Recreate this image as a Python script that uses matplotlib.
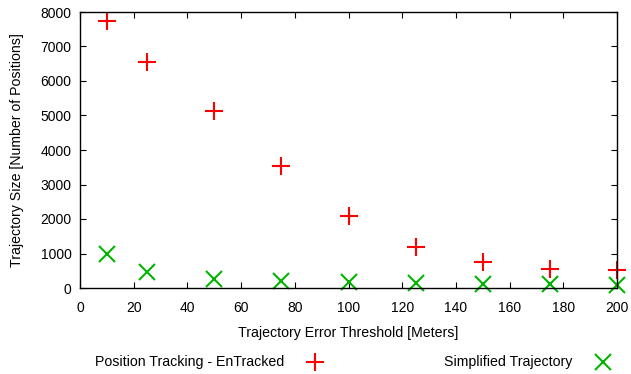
import matplotlib
matplotlib.use("Agg")
import matplotlib.pyplot as plt
from matplotlib.lines import Line2D

plt.rcParams['font.family'] = ['Liberation Sans', 'DejaVu Sans']

thresholds = [10, 25, 50, 75, 100, 125, 150, 175, 200]
entracked = [7750, 6550, 5120, 3550, 2080, 1190, 750, 540, 510]
simplified = [980, 450, 270, 200, 160, 140, 130, 110, 100]
xticks = [0, 20, 40, 60, 80, 100, 120, 140, 160, 180, 200]
yticks = [0, 1000, 2000, 3000, 4000, 5000, 6000, 7000, 8000]

red = '#ff0000'
green = '#00b400'

fig = plt.figure(figsize=(6.31, 3.74), dpi=100)
ax = fig.add_axes([80/631, 1-288/374, (617-80)/631, (288-12)/374])

ax.plot(thresholds, entracked, linestyle='none', marker='+', markersize=13,
        markeredgewidth=1.5, color=red, clip_on=False)
ax.plot(thresholds, simplified, linestyle='none', marker='x', markersize=11,
        markeredgewidth=1.5, color=green, clip_on=False)

ax.set_xlim(0, 200)
ax.set_ylim(0, 8000)
ax.set_xticks(xticks)
ax.set_yticks(yticks)
ax.tick_params(direction='in', top=True, right=True, length=4, width=0.8,
               labelsize=10)
ax.tick_params(axis='x', pad=9)
ax.tick_params(axis='y', pad=6)
for s in ax.spines.values():
    s.set_linewidth(1.0)
ax.set_xlabel('Trajectory Error Threshold [Meters]', fontsize=10.2, labelpad=8)
ax.set_ylabel('Trajectory Size [Number of Positions]', fontsize=10.2, labelpad=12)

ly = 1 - 362/374
fig.text(284/631, ly, 'Position Tracking - EnTracked', ha='right', va='center', fontsize=10.2)
fig.text(572/631, ly, 'Simplified Trajectory', ha='right', va='center', fontsize=10.2)
fig.add_artist(Line2D([315/631], [ly], marker='+', markersize=13, markeredgewidth=1.5,
                      color=red, linestyle='none', transform=fig.transFigure))
fig.add_artist(Line2D([603/631], [ly], marker='x', markersize=11, markeredgewidth=1.5,
                      color=green, linestyle='none', transform=fig.transFigure))

fig.savefig('out.png', dpi=100)
